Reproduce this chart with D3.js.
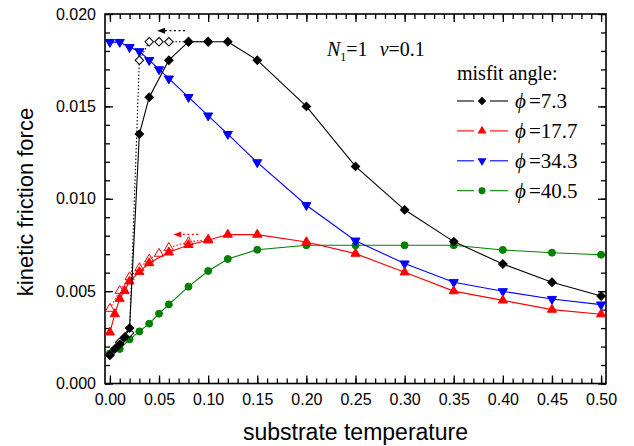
<!DOCTYPE html>
<html>
<head>
<meta charset="utf-8">
<style>
  body { margin: 0; background: #fff; }
  svg { display: block; background: #fff; }
  .axis path, .axis line { stroke: #000; }
  .axis text { font-family: "Liberation Sans", Arial, sans-serif; font-size: 16px; fill: #000; }
  .serif { font-family: "Liberation Serif", "Times New Roman", serif; fill: #000; }
</style>
</head>
<body>
<div id="chart"></div>
<script src="https://d3js.org/d3.v7.min.js"></script>
<script>
// substrate temperature values
var tFull = [0, 0.005, 0.01, 0.015, 0.02, 0.03, 0.04, 0.06, 0.08, 0.10, 0.12, 0.15, 0.20, 0.25, 0.30, 0.35, 0.40, 0.45, 0.50];
var tCool = [0, 0.01, 0.02, 0.03, 0.04, 0.05, 0.06, 0.08, 0.10];
var tStd  = [0, 0.01, 0.02, 0.03, 0.04, 0.05, 0.06, 0.08, 0.10, 0.12, 0.15, 0.20, 0.25, 0.30, 0.35, 0.40, 0.45, 0.50];

// kinetic friction force, x 1e-3
var phi73    = [1.55, 1.87, 2.12, 2.5, 3.0, 13.5, 15.5, 17.5, 18.5, 18.5, 18.5, 17.5, 15.0, 11.75, 9.4, 7.68, 6.47, 5.48, 4.74];
var phi73c   = [1.53, 2.23, 2.73, 17.5, 18.5, 18.5, 18.5, 18.5, 18.5];
var phi177   = [2.77, 3.76, 4.59, 5.02, 5.53, 6.04, 6.52, 7.1, 7.5, 7.75, 8.06, 8.06, 7.66, 7.03, 6.02, 5.0, 4.5, 4.0, 3.75];
var phi177c  = [4.05, 5.02, 5.76, 6.25, 6.72, 7.03, 7.35, 7.66, 7.8];
var phi343   = [18.48, 18.48, 18.2, 17.98, 17.5, 17.0, 16.5, 15.5, 14.5, 13.5, 11.97, 9.65, 7.73, 6.49, 5.48, 4.99, 4.57, 4.27];
var phi405   = [1.63, 1.87, 2.39, 2.82, 3.24, 3.78, 4.28, 5.24, 6.09, 6.74, 7.24, 7.48, 7.48, 7.48, 7.48, 7.23, 7.08, 6.97];

var angles = ["7.3", "17.7", "34.3", "40.5"];
var colors = ["#000000", "#ff0000", "#0000ff", "#008000"];

// hysteresis arrows: [t start, t end, force x1e-3]
var arrowBlack = [0.0764, 0.048, 19.1];
var arrowRed   = [0.090, 0.0645, 8.07];

var xTicks = d3.range(0, 11).map(function(i) { return i * 0.05; });
var yTicks = d3.range(0, 5).map(function(i) { return i * 0.005; });

var width = 634, height = 446;
var svg = d3.select("#chart").append("svg")
    .attr("width", width)
    .attr("height", height);

var x = d3.scaleLinear().domain([-0.005, 0.505]).range([105, 606]);
var y = d3.scaleLinear().domain([0, 0.020]).range([383.5, 14]);

// minor ticks
var xMinor = d3.range(0, 51).map(function(i) { return i / 100; });
var yMinor = d3.range(0, 21).map(function(i) { return i / 1000; });

function minor(g) { g.select(".domain").remove(); g.selectAll("text").remove(); }

svg.append("g").attr("class", "axis").attr("transform", "translate(0,383.5)")
  .call(d3.axisBottom(x).tickValues(xMinor).tickSize(-5).tickFormat("")).call(minor);
svg.append("g").attr("class", "axis").attr("transform", "translate(0,14)")
  .call(d3.axisTop(x).tickValues(xMinor).tickSize(-5).tickFormat("")).call(minor);
svg.append("g").attr("class", "axis").attr("transform", "translate(105,0)")
  .call(d3.axisLeft(y).tickValues(yMinor).tickSize(-5).tickFormat("")).call(minor);
svg.append("g").attr("class", "axis").attr("transform", "translate(606,0)")
  .call(d3.axisRight(y).tickValues(yMinor).tickSize(-5).tickFormat("")).call(minor);

// major ticks
svg.append("g").attr("class", "axis").attr("transform", "translate(0,383.5)")
  .call(d3.axisBottom(x).tickValues(xTicks).tickSize(-8).tickPadding(10).tickFormat(d3.format(".2f")))
  .call(function(g) { g.select(".domain").remove(); });
svg.append("g").attr("class", "axis").attr("transform", "translate(0,14)")
  .call(d3.axisTop(x).tickValues(xTicks).tickSize(-8).tickFormat(""))
  .call(function(g) { g.select(".domain").remove(); });
svg.append("g").attr("class", "axis").attr("transform", "translate(105,0)")
  .call(d3.axisLeft(y).tickValues(yTicks).tickSize(-8).tickPadding(9).tickFormat(d3.format(".3f")))
  .call(function(g) { g.select(".domain").remove(); });
svg.append("g").attr("class", "axis").attr("transform", "translate(606,0)")
  .call(d3.axisRight(y).tickValues(yTicks).tickSize(-8).tickFormat(""))
  .call(function(g) { g.select(".domain").remove(); });

svg.selectAll(".axis line").attr("stroke-width", 1.3);

// frame
svg.append("rect")
  .attr("x", 105).attr("y", 14)
  .attr("width", 501).attr("height", 369.5)
  .attr("fill", "none").attr("stroke", "#000").attr("stroke-width", 1.6);

// axis titles
svg.append("text")
  .attr("x", 355.5).attr("y", 440)
  .attr("text-anchor", "middle")
  .style("font-family", "'Liberation Sans', Arial, sans-serif")
  .style("font-size", "23px")
  .text("substrate temperature");
svg.append("text")
  .attr("transform", "translate(33,202) rotate(-90)")
  .attr("text-anchor", "middle")
  .style("font-family", "'Liberation Sans', Arial, sans-serif")
  .style("font-size", "22px")
  .text("kinetic friction force");

function zip(ts, vs) {
  return ts.map(function(t, i) { return { t: t, v: vs[i] / 1000 }; });
}

var line = d3.line()
  .x(function(d) { return x(d.t); })
  .y(function(d) { return y(d.v); });

var diamond = d3.symbol().type(d3.symbolSquare).size(36);
var triUp = d3.symbol().type(d3.symbolTriangle).size(36);
var circ = d3.symbol().type(d3.symbolCircle).size(38);

var series = [
  { data: zip(tStd, phi405), color: colors[3], sym: circ, rot: 0, hollow: false, dash: null },
  { data: zip(tStd, phi343), color: colors[2], sym: triUp, rot: 180, hollow: false, dash: null },
  { data: zip(tCool, phi177c), color: colors[1], sym: triUp, rot: 0, hollow: true, dash: "1.5,2" },
  { data: zip(tFull, phi177), color: colors[1], sym: triUp, rot: 0, hollow: false, dash: null },
  { data: zip(tCool, phi73c), color: colors[0], sym: diamond, rot: 45, hollow: true, dash: "1.5,2" },
  { data: zip(tFull, phi73), color: colors[0], sym: diamond, rot: 45, hollow: false, dash: null }
];

series.forEach(function(s) {
  svg.append("path")
    .datum(s.data)
    .attr("d", line)
    .attr("fill", "none")
    .attr("stroke", s.color)
    .attr("stroke-width", 1.1)
    .attr("stroke-dasharray", s.dash);
  svg.selectAll(null)
    .data(s.data)
    .enter().append("path")
    .attr("d", s.sym)
    .attr("transform", function(d) {
      return "translate(" + x(d.t) + "," + y(d.v) + ") rotate(" + s.rot + ")";
    })
    .attr("fill", s.hollow ? "#fff" : s.color)
    .attr("stroke", s.color)
    .attr("stroke-width", 1);
});

// hysteresis arrows
function arrow(a, color) {
  var x1 = x(a[0]), x2 = x(a[1]), yy = y(a[2] / 1000);
  svg.append("line")
    .attr("x1", x1).attr("x2", x2 + 6).attr("y1", yy).attr("y2", yy)
    .attr("stroke", color).attr("stroke-width", 1.2)
    .attr("stroke-dasharray", "2,2.5");
  svg.append("path")
    .attr("d", d3.line()([[x2, yy], [x2 + 8, yy - 3], [x2 + 8, yy + 3]]) + "Z")
    .attr("fill", color);
}
arrow(arrowBlack, colors[0]);
arrow(arrowRed, colors[1]);

// annotation N1=1 v=0.1
var ann = svg.append("text").attr("class", "serif")
  .attr("x", 327).attr("y", 56)
  .style("font-size", "20px");
ann.append("tspan").style("font-style", "italic").text("N");
ann.append("tspan").attr("dy", 5).style("font-size", "12px").text("1");
ann.append("tspan").attr("dy", -5).text("=1");
ann.append("tspan").attr("dx", 12).style("font-style", "italic").text("v");
ann.append("tspan").text("=0.1");

// legend
svg.append("text").attr("class", "serif")
  .attr("x", 457).attr("y", 80)
  .style("font-size", "20px")
  .text("misfit angle:");

var legSyms = [
  { sym: diamond, rot: 45 },
  { sym: triUp, rot: 0 },
  { sym: triUp, rot: 180 },
  { sym: circ, rot: 0 }
];

angles.forEach(function(a, i) {
  var ly = 101 + i * 29.9;
  var g = svg.append("g");
  g.append("line").attr("x1", 457).attr("x2", 474).attr("y1", ly).attr("y2", ly)
    .attr("stroke", colors[i]).attr("stroke-width", 1.1);
  g.append("line").attr("x1", 490).attr("x2", 508).attr("y1", ly).attr("y2", ly)
    .attr("stroke", colors[i]).attr("stroke-width", 1.1);
  g.append("path").attr("d", legSyms[i].sym)
    .attr("transform", "translate(482," + ly + ") rotate(" + legSyms[i].rot + ")")
    .attr("fill", colors[i]);
  var t = g.append("text").attr("class", "serif")
    .attr("x", 515).attr("y", ly + 7)
    .style("font-size", "21px");
  t.append("tspan").style("font-style", "italic").text("\u03D5");
  t.append("tspan").attr("dx", 3).text("=" + a);
});
</script>
</body>
</html>
